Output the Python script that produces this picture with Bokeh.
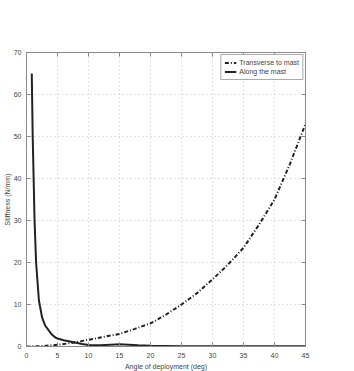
from bokeh.plotting import figure
from bokeh.models import Range1d, LinearAxis, SingleIntervalTicker, Legend, LegendItem, CustomJSTickFormatter
from bokeh.embed import file_html
from bokeh.resources import INLINE

# Data
angle_trans = [0, 2.5, 5, 7.5, 10, 12.5, 15, 17.5, 20, 22.5, 25, 27.5, 30, 32.5, 35, 37.5, 40, 42.5, 45]
stiff_trans = [0, 0.1, 0.4, 0.9, 1.6, 2.3, 3.0, 4.2, 5.5, 7.6, 10, 12.7, 16, 19.5, 23.5, 29, 35, 43.5, 53]

angle_along = [0.85, 1.0, 1.15, 1.3, 1.55, 2, 2.5, 3, 4, 4.6, 5, 6, 7, 8, 9, 10, 12, 15, 18, 20, 25, 30, 35, 40, 45]
stiff_along = [65, 50, 40, 30, 20, 11, 7, 5, 3, 2.2, 1.9, 1.5, 1.2, 0.9, 0.6, 0.35, 0.3, 0.55, 0.3, 0.15, 0.05, 0.05, 0.05, 0.05, 0.05]

x_label = "Angle of deployment (deg)"
y_label = "Stiffness (N/mm)"
legend_labels = ["Transverse to mast", "Along the mast"]

FONT = "Liberation Sans"
TXT = "#444444"
AX = "#8a8a8a"

p = figure(frame_width=279, frame_height=294, output_backend="svg", toolbar_location=None,
           x_range=Range1d(0, 45), y_range=Range1d(0, 70),
           min_border_left=24, min_border_right=35, min_border_top=52, min_border_bottom=22)
p.background_fill_color = "white"
p.border_fill_color = "white"
p.outline_line_color = AX

xt = SingleIntervalTicker(interval=5)
yt = SingleIntervalTicker(interval=10)
p.xaxis.ticker = xt
p.yaxis.ticker = yt

for ax in [p.xaxis[0], p.yaxis[0]]:
    ax.axis_line_color = AX
    ax.major_tick_line_color = AX
    ax.major_tick_in = 4
    ax.major_tick_out = 0
    ax.minor_tick_line_color = None
    ax.major_label_text_font = FONT
    ax.major_label_text_font_size = "7px"
    ax.major_label_text_color = TXT
    ax.major_label_standoff = 2
    ax.axis_label_text_font = FONT
    ax.axis_label_text_font_size = "7px"
    ax.axis_label_text_font_style = "normal"
    ax.axis_label_text_color = TXT
    ax.axis_label_standoff = 2

p.yaxis.major_label_standoff = 1
p.yaxis.axis_label_standoff = 0
p.xaxis.axis_label = x_label
p.yaxis.axis_label = y_label

blank = CustomJSTickFormatter(code="return '';")
for loc, tk in [("above", xt), ("right", yt)]:
    a = LinearAxis(ticker=tk, formatter=blank)
    a.axis_line_color = AX
    a.major_tick_line_color = AX
    a.major_tick_in = 4
    a.major_tick_out = 0
    a.minor_tick_line_color = None
    a.major_label_standoff = 0
    p.add_layout(a, loc)

p.xgrid.ticker = xt
p.ygrid.ticker = yt
for g in [p.xgrid[0], p.ygrid[0]]:
    g.grid_line_color = "#c4c4c4"
    g.grid_line_dash = "1 3"
    g.grid_line_width = 1

r1 = p.line(angle_trans, stiff_trans, line_color="#222222", line_width=2, line_dash="4 2 1 2")
r2 = p.line(angle_along, stiff_along, line_color="#222222", line_width=2)

legend = Legend(items=[LegendItem(label=legend_labels[0], renderers=[r1]),
                       LegendItem(label=legend_labels[1], renderers=[r2])],
                location="top_right")
legend.label_text_font = FONT
legend.label_text_font_size = "7px"
legend.label_text_color = TXT
legend.glyph_width = 12
legend.glyph_height = 9
legend.label_height = 9
legend.label_standoff = 3
legend.padding = 3
legend.spacing = 0
legend.margin = 2
legend.border_line_color = "#555555"
legend.border_line_width = 1
legend.background_fill_alpha = 1
p.add_layout(legend, "center")

open("out.html", "w").write(file_html(p, INLINE))
